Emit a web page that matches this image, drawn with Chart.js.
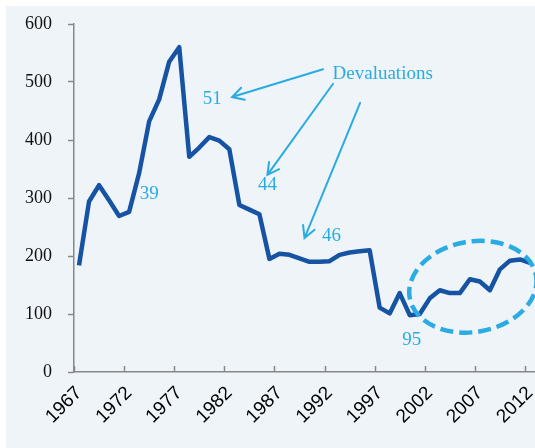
<!DOCTYPE html>
<html>
<head>
<meta charset="utf-8">
<script src="https://cdn.jsdelivr.net/npm/chart.js@4.4.1/dist/chart.umd.min.js"></script>
<style>
  html, body { margin: 0; padding: 0; background: #fff; }
  #wrap { position: absolute; left: 6px; top: 6px; width: 529px; height: 442px; background: #eff4f9; }
</style>
</head>
<body>
<div id="wrap"><canvas id="c"></canvas></div>
<script>
// yearly series, 1967-2012
var years = [1967, 1968, 1969, 1970, 1971, 1972, 1973, 1974, 1975, 1976,
             1977, 1978, 1979, 1980, 1981, 1982, 1983, 1984, 1985, 1986,
             1987, 1988, 1989, 1990, 1991, 1992, 1993, 1994, 1995, 1996,
             1997, 1998, 1999, 2000, 2001, 2002, 2003, 2004, 2005, 2006,
             2007, 2008, 2009, 2010, 2011, 2012];
var values = [184, 294, 322, 296, 269, 276, 343, 432, 470, 535,
              560, 371, 387, 405, 399, 384, 288, 280, 272, 195,
              204, 202, 196, 190, 190, 191, 202, 206, 208, 210,
              111, 101, 136, 98, 100, 127, 141, 136, 136, 160,
              156, 141, 177, 192, 194, 188];
var tickYears = [1967, 1972, 1977, 1982, 1987, 1992, 1997, 2002, 2007, 2012];

// annotation text, placed in data units (year, value)
var noteLabels = ['51', '44', '39', '46', '95'];
var noteYears  = [1980.3, 1985.8, 1974.0, 1992.2, 2000.2];
var noteValues = [471, 322, 307, 234, 55];

var lineBlue = '#1753a3', noteBlue = '#2aabe2', axisGray = '#888888';

var annot = {
  id: 'annot',
  afterDatasetsDraw: function (chart) {
    var ctx = chart.ctx, a = chart.chartArea;
    var xs = chart.scales.x, ys = chart.scales.y;
    var px = function (yr) { return xs.getPixelForValue(yr - years[0]); };
    var py = function (v) { return ys.getPixelForValue(v); };

    ctx.save();
    // x tick marks point inward
    ctx.strokeStyle = axisGray;
    ctx.lineWidth = 1.5;
    tickYears.forEach(function (yr) {
      var x = Math.round(px(yr - 0.5)) + 0.5;
      ctx.beginPath();
      ctx.moveTo(x, a.bottom);
      ctx.lineTo(x, a.bottom - 6);
      ctx.stroke();
    });

    ctx.fillStyle = noteBlue;
    ctx.font = '19px "Liberation Serif", serif';
    ctx.textAlign = 'center';
    ctx.textBaseline = 'middle';
    noteLabels.forEach(function (t, i) {
      ctx.fillText(t, px(noteYears[i]), py(noteValues[i]));
    });
    ctx.textAlign = 'left';
    ctx.fillText('Devaluations', px(1992.3), py(514));

    // arrows from the label to each devaluation
    var arrows = [[1991.35, 522, 1982.27, 474], [1992.35, 497, 1985.8, 340], [1995.05, 464, 1989.5, 231]];
    ctx.strokeStyle = noteBlue;
    ctx.lineWidth = 2;
    ctx.lineCap = 'round';
    arrows.forEach(function (ar) {
      var x1 = px(ar[0]), y1 = py(ar[1]), x2 = px(ar[2]), y2 = py(ar[3]);
      var ang = Math.atan2(y2 - y1, x2 - x1), h = 13;
      ctx.beginPath();
      ctx.moveTo(x1, y1); ctx.lineTo(x2, y2);
      ctx.moveTo(x2 - h * Math.cos(ang - 0.5), y2 - h * Math.sin(ang - 0.5));
      ctx.lineTo(x2, y2);
      ctx.lineTo(x2 - h * Math.cos(ang + 0.5), y2 - h * Math.sin(ang + 0.5));
      ctx.stroke();
    });

    // dashed ring round the recent years
    var cx = px(2006.3), cy = py(147);
    var rx = px(2006.3 + 6.4) - cx, ry = py(147) - py(147 + 78);
    ctx.lineWidth = 4.5;
    ctx.lineCap = 'butt';
    ctx.setLineDash([13, 6]);
    ctx.beginPath();
    ctx.ellipse(cx, cy, rx, ry, -10 * Math.PI / 180, 0, Math.PI * 2);
    ctx.stroke();
    ctx.restore();
  }
};

new Chart(document.getElementById('c'), {
  type: 'line',
  data: {
    labels: years,
    datasets: [{
      data: values,
      borderColor: lineBlue,
      borderWidth: 4.5,
      borderJoinStyle: 'round',
      pointRadius: 0,
      tension: 0,
      fill: false
    }]
  },
  options: {
    responsive: true,
    maintainAspectRatio: false,
    animation: false,
    layout: { padding: { top: 18, left: 0, right: 0, bottom: 0 } },
    plugins: { legend: { display: false }, tooltip: { enabled: false } },
    scales: {
      x: {
        type: 'category',
        offset: true,
        grid: { display: false, offset: true },
        border: { color: axisGray, width: 1.5 },
        ticks: {
          autoSkip: false,
          maxRotation: 45,
          minRotation: 45,
          padding: 2,
          color: '#000',
          font: { family: '"Liberation Sans", Arial, sans-serif', size: 19 },
          callback: function (v, i) { return tickYears.indexOf(years[i]) >= 0 ? String(years[i]) : ''; }
        },
        afterFit: function (s) { s.height = 76; s.paddingLeft = 0; s.paddingRight = 0; }
      },
      y: {
        min: 0,
        max: 600,
        ticks: {
          stepSize: 100,
          padding: 16,
          color: '#111',
          font: { family: '"Liberation Serif", serif', size: 18 }
        },
        grid: { drawOnChartArea: false, tickLength: 6, tickColor: axisGray, tickWidth: 1.5 },
        border: { color: axisGray, width: 1.5 },
        afterFit: function (s) { s.width = 68; s.paddingTop = 0; s.paddingBottom = 0; }
      }
    }
  },
  plugins: [annot]
});
</script>
</body>
</html>
